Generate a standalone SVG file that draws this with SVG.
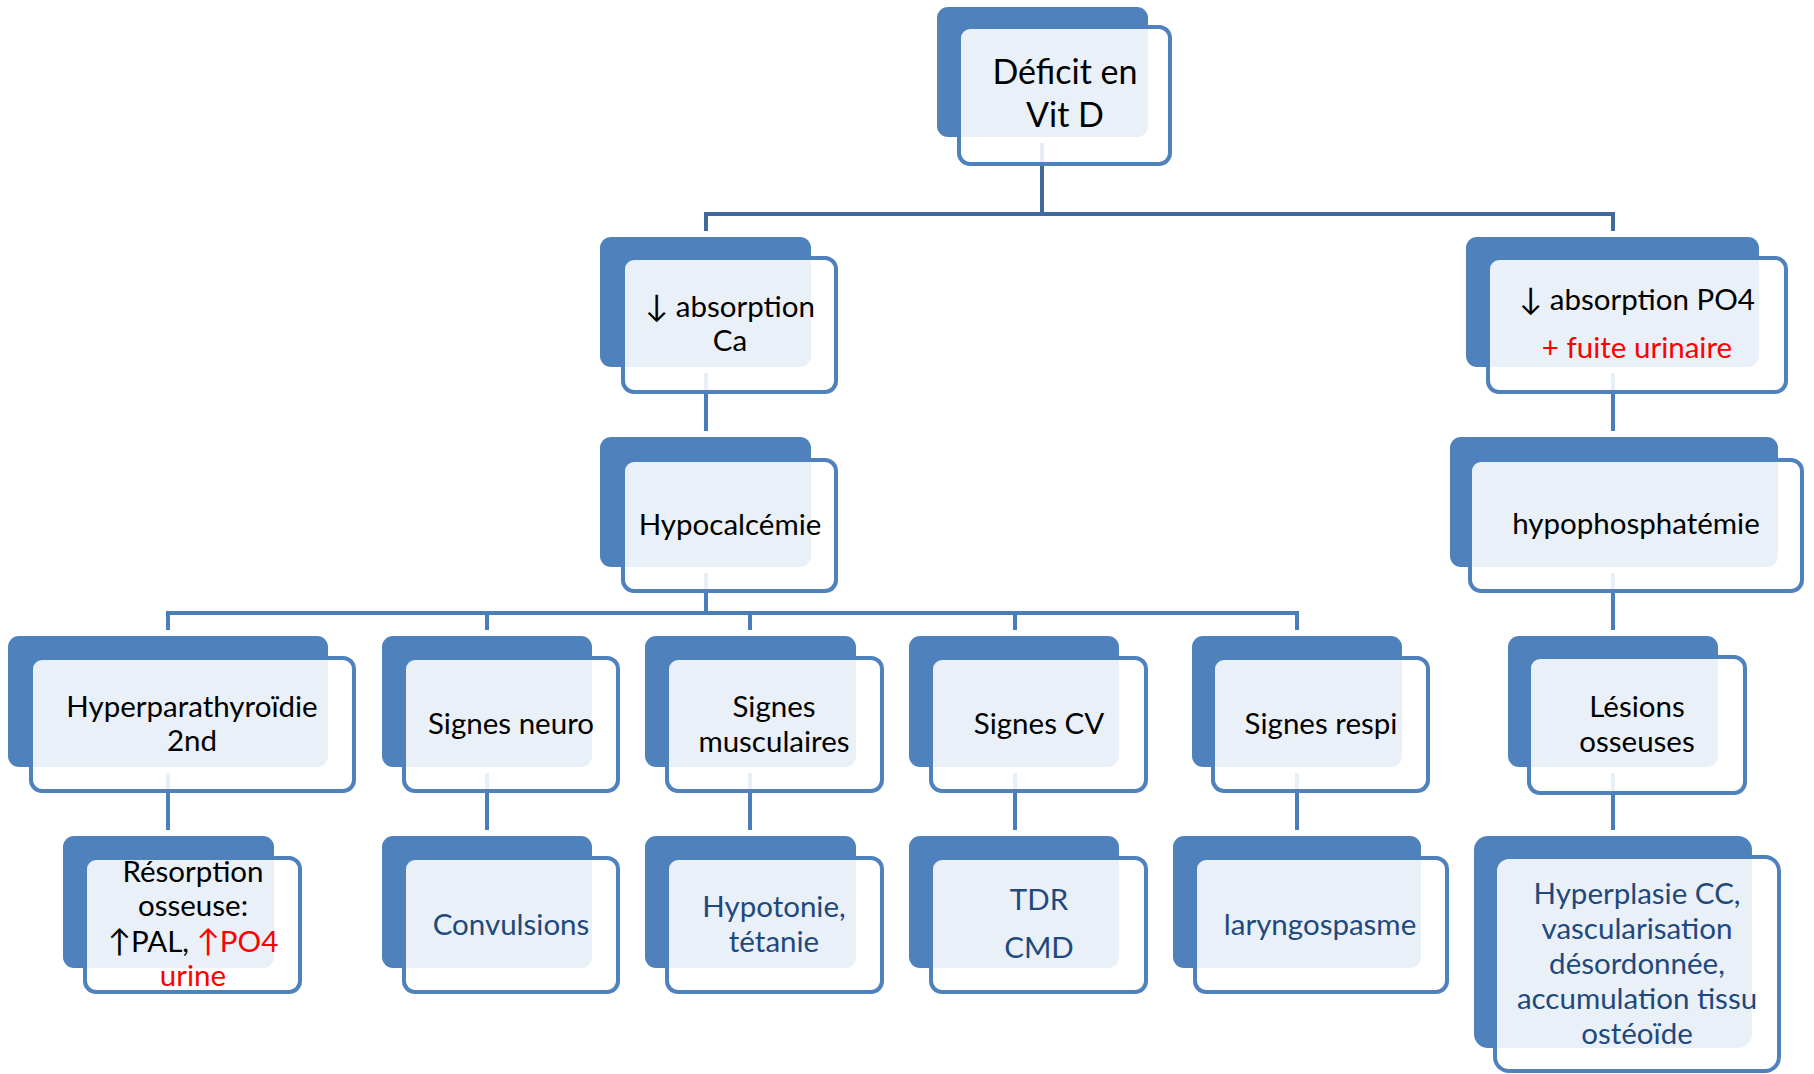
<svg xmlns="http://www.w3.org/2000/svg" width="1814" height="1074" viewBox="0 0 1814 1074">
<style>
.bk{fill:#4F81BD}
.fr{fill:#fff;fill-opacity:0.88;stroke:#4F81BD;stroke-width:4}
.t{font-family:Lato,"Open Sans","DejaVu Sans",sans-serif;font-size:29.5px;fill:#000;text-anchor:middle}
.big{font-size:34px}
.lf{fill:#1F497D}
.red{fill:#FF0000}
.ar{font-size:31px}
.c{fill:none;stroke:#4A7EBB;stroke-width:4}
.c0{fill:none;stroke:#41699C;stroke-width:4}
</style>
<rect width="1814" height="1074" fill="#fff"/>
<g id="connectors">
<path class="c0" d="M1042,143V214M706,231V214H1613V231"/>
<path class="c" d="M706,373V431M1613,373V431M706,573V613M168,630V613H1297V630M487,613V630M750,613V630M1015,613V630M1613,573V630M168,773V830M487,773V830M750,773V830M1015,773V830M1297,773V830M1613,773V830"/>
</g>
<g id="deficit">
<rect class="bk" x="937" y="7" width="211" height="130" rx="11"/>
<rect class="fr" x="959" y="27" width="211" height="137" rx="11"/>
<text class="t big" x="1065" y="84">Déficit en</text>
<text class="t big" x="1065" y="127">Vit D</text>
</g>
<g id="absCa">
<rect class="bk" x="600" y="237" width="211" height="130" rx="11"/>
<rect class="fr" x="623" y="258" width="213" height="134" rx="11"/>
<text class="t" x="730" y="317"><tspan class="ar">↓</tspan> absorption</text>
<text class="t" x="730" y="351">Ca</text>
</g>
<g id="absPO4">
<rect class="bk" x="1466" y="237" width="293" height="130" rx="11"/>
<rect class="fr" x="1488" y="258" width="298" height="134" rx="11"/>
<text class="t" x="1637" y="310"><tspan class="ar">↓</tspan> absorption PO4</text>
<text class="t red" x="1637" y="358">+ fuite urinaire</text>
</g>
<g id="hypocalcemie">
<rect class="bk" x="600" y="437" width="211" height="130" rx="11"/>
<rect class="fr" x="623" y="460" width="213" height="131" rx="11"/>
<text class="t" x="730" y="535">Hypocalcémie</text>
</g>
<g id="hypophosphatemie">
<rect class="bk" x="1450" y="437" width="328" height="130" rx="11"/>
<rect class="fr" x="1470" y="460" width="332" height="131" rx="11"/>
<text class="t" x="1636" y="534">hypophosphatémie</text>
</g>
<g id="hyperparathyroidie">
<rect class="bk" x="8" y="636" width="320" height="131" rx="11"/>
<rect class="fr" x="31" y="658" width="323" height="133" rx="11"/>
<text class="t" x="192" y="717">Hyperparathyroïdie</text>
<text class="t" x="192" y="751">2nd</text>
</g>
<g id="neuro">
<rect class="bk" x="382" y="636" width="210" height="131" rx="11"/>
<rect class="fr" x="404" y="658" width="214" height="133" rx="11"/>
<text class="t" x="511" y="734">Signes neuro</text>
</g>
<g id="musculaires">
<rect class="bk" x="645" y="636" width="211" height="131" rx="11"/>
<rect class="fr" x="667" y="658" width="215" height="133" rx="11"/>
<text class="t" x="774" y="717">Signes</text>
<text class="t" x="774" y="752">musculaires</text>
</g>
<g id="cv">
<rect class="bk" x="909" y="636" width="210" height="131" rx="11"/>
<rect class="fr" x="931" y="658" width="215" height="133" rx="11"/>
<text class="t" x="1039" y="734">Signes CV</text>
</g>
<g id="respi">
<rect class="bk" x="1192" y="636" width="210" height="131" rx="11"/>
<rect class="fr" x="1213" y="658" width="215" height="133" rx="11"/>
<text class="t" x="1321" y="734">Signes respi</text>
</g>
<g id="lesions">
<rect class="bk" x="1508" y="636" width="210" height="131" rx="11"/>
<rect class="fr" x="1529" y="657" width="216" height="136" rx="11"/>
<text class="t" x="1637" y="717">Lésions</text>
<text class="t" x="1637" y="752">osseuses</text>
</g>
<g id="resorption">
<rect class="bk" x="63" y="836" width="211" height="132" rx="11"/>
<rect class="fr" x="85" y="858" width="215" height="134" rx="11"/>
<text class="t" x="193" y="882">Résorption</text>
<text class="t" x="193" y="916">osseuse:</text>
<text class="t" x="193" y="952"><tspan class="ar">↑</tspan>PAL, <tspan class="red ar">↑</tspan><tspan class="red">PO4</tspan></text>
<text class="t red" x="193" y="986">urine</text>
</g>
<g id="convulsions">
<rect class="bk" x="382" y="836" width="210" height="132" rx="11"/>
<rect class="fr" x="404" y="858" width="214" height="134" rx="11"/>
<text class="t lf" x="511" y="935">Convulsions</text>
</g>
<g id="hypotonie">
<rect class="bk" x="645" y="836" width="211" height="132" rx="11"/>
<rect class="fr" x="667" y="858" width="215" height="134" rx="11"/>
<text class="t lf" x="774" y="917">Hypotonie,</text>
<text class="t lf" x="774" y="952">tétanie</text>
</g>
<g id="tdr">
<rect class="bk" x="909" y="836" width="210" height="132" rx="11"/>
<rect class="fr" x="931" y="858" width="215" height="134" rx="11"/>
<text class="t lf" x="1039" y="910">TDR</text>
<text class="t lf" x="1039" y="958">CMD</text>
</g>
<g id="laryngospasme">
<rect class="bk" x="1173" y="836" width="248" height="132" rx="11"/>
<rect class="fr" x="1195" y="858" width="252" height="134" rx="11"/>
<text class="t lf" x="1320" y="935">laryngospasme</text>
</g>
<g id="hyperplasie">
<rect class="bk" x="1474" y="836" width="278" height="212" rx="14"/>
<rect class="fr" x="1495" y="857" width="284" height="214" rx="14"/>
<text class="t lf" x="1637" y="904">Hyperplasie CC,</text>
<text class="t lf" x="1637" y="939">vascularisation</text>
<text class="t lf" x="1637" y="974">désordonnée,</text>
<text class="t lf" x="1637" y="1009">accumulation tissu</text>
<text class="t lf" x="1637" y="1044">ostéoïde</text>
</g>
</svg>
